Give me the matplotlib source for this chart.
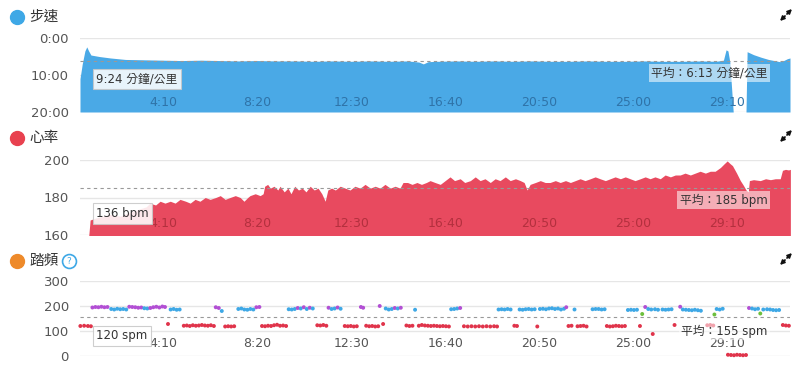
import matplotlib.pyplot as plt
from matplotlib.lines import Line2D
from matplotlib.patches import FancyArrowPatch
from matplotlib.transforms import blended_transform_factory

plt.rcParams['font.family'] = ['DejaVu Sans', 'Noto Sans CJK TC']

# shared time axis (seconds)
x_range = (29, 1917)
x_ticks = [250, 500, 750, 1000, 1250, 1500, 1750]
x_tick_labels = ['4:10', '8:20', '12:30', '16:40', '20:50', '25:00', '29:10']

# pace, minutes per km
pace_t = [29, 35, 42, 47, 52, 58, 80, 110, 150, 200, 250, 300, 350, 400, 450,
          500, 550, 600, 650, 700, 750, 800, 850, 900, 930, 942, 955, 980,
          1030, 1080, 1130, 1180, 1230, 1280, 1330, 1380, 1430, 1480, 1530,
          1580, 1630, 1680, 1720, 1740, 1747, 1752, 1757, 1766, 1800, 1803,
          1820, 1840, 1860, 1880, 1890, 1900, 1910, 1917]
pace_min = [11.0, 7.0, 3.5, 2.4, 3.5, 4.6, 5.0, 5.4, 5.8, 5.9, 6.0, 6.1, 6.0,
            6.1, 6.2, 6.1, 6.2, 6.2, 6.3, 6.2, 6.3, 6.2, 6.3, 6.2, 6.5, 7.0,
            6.4, 6.3, 6.2, 6.3, 6.2, 6.3, 6.2, 6.3, 6.3, 6.2, 6.3, 6.3, 6.2,
            6.3, 6.3, 6.2, 6.3, 6.0, 3.2, 3.5, 6.5, 20.0, 20.0, 3.7, 4.5, 5.2,
            5.8, 6.2, 6.4, 6.1, 5.6, 5.4]
pace_avg = 6.22

# heart rate, bpm
hr_t = [43, 48, 56, 70, 90, 110, 136, 160, 189, 205, 215, 230, 242, 255, 269,
        282, 295, 310, 322, 335, 348, 362, 375, 390, 402, 415, 428, 442, 455,
        465, 475, 481, 495, 508, 516, 520, 528, 535, 545, 555, 561, 572, 582,
        590, 600, 610, 620, 630, 641, 652, 662, 672, 681, 688, 698, 708, 721,
        734, 747, 760, 774, 787, 801, 814, 827, 840, 854, 867, 880, 888, 900,
        912, 925, 937, 950, 960, 973, 987, 1000, 1013, 1025, 1040, 1052, 1067,
        1080, 1093, 1106, 1120, 1133, 1146, 1160, 1173, 1187, 1200, 1210, 1218,
        1226, 1240, 1253, 1266, 1279, 1293, 1306, 1320, 1333, 1346, 1359, 1372,
        1386, 1399, 1412, 1426, 1439, 1452, 1466, 1479, 1492, 1505, 1519, 1532,
        1545, 1558, 1572, 1585, 1599, 1612, 1625, 1638, 1652, 1665, 1678, 1692,
        1705, 1718, 1732, 1742, 1750, 1758, 1764, 1775, 1785, 1793, 1800, 1806,
        1809, 1820, 1838, 1852, 1865, 1878, 1891, 1897, 1905, 1913, 1918]
hr_bpm = [136, 150, 168, 169, 170, 171, 170, 172, 174, 175, 177, 176, 178, 177,
          178, 177, 179, 178, 177, 179, 178, 180, 179, 180, 181, 179, 180, 181,
          180, 178, 180, 181, 182, 181, 182, 186, 187, 185, 186, 184, 186, 183,
          185, 182, 186, 184, 185, 183, 186, 184, 185, 182, 178, 184, 185, 184,
          186, 185, 184, 186, 185, 187, 185, 186, 185, 187, 185, 186, 185, 188,
          188, 187, 188, 187, 188, 189, 188, 187, 189, 191, 189, 190, 188, 189,
          191, 189, 190, 188, 190, 189, 191, 189, 190, 189, 188, 184, 187, 188,
          189, 188, 188, 189, 188, 189, 188, 189, 190, 189, 190, 191, 190, 189,
          190, 191, 190, 191, 190, 189, 190, 191, 190, 191, 190, 192, 191, 192,
          192, 193, 192, 193, 194, 193, 194, 194, 196, 198, 199.5, 198, 197,
          193, 189, 186.5, 184, 183, 189, 189.5, 189, 190, 189.5, 190, 190,
          194.5, 195, 194.7, 195]
hr_avg = 185

# cadence, spm
cad_t = [30, 40, 50, 58,
         62, 70, 78, 86, 94, 102,
         112, 120, 128, 136, 144, 152,
         160, 168, 176, 184, 192, 200, 208, 216, 224, 232, 240, 248, 255,
         263, 270, 278, 286, 294,
         305, 313, 321, 329, 337, 345, 353, 361, 369, 377, 385,
         390, 398, 406,
         415, 423, 431, 439,
         450, 458, 466, 474, 482, 490, 498, 506,
         513, 521, 529, 537, 545, 553, 561, 569, 577,
         584, 592, 600, 608, 616, 624, 632, 640, 648,
         660, 668, 676, 684,
         690, 698, 706, 714, 722,
         733, 741, 749, 757, 765,
         776, 782,
         790, 798, 806, 814, 822,
         826, 835,
         842, 850, 858, 866, 874, 882,
         897, 905, 913,
         920,
         930, 938, 946, 954, 962, 970, 978, 986, 994, 1002, 1010,
         1016, 1024, 1032, 1040,
         1050, 1060, 1070, 1080, 1090, 1100, 1110, 1120, 1130, 1138,
         1142, 1150, 1158, 1166, 1174,
         1184, 1191,
         1198, 1206, 1214, 1222, 1230, 1238,
         1245,
         1252, 1260, 1268, 1276, 1284, 1292, 1300, 1308, 1316, 1322,
         1328, 1336, 1344, 1352, 1360, 1368, 1376,
         1392, 1400, 1408, 1416, 1424,
         1430, 1438, 1446, 1454, 1462, 1470, 1478,
         1486, 1494, 1502, 1510, 1518,
         1524, 1532, 1540, 1548, 1552, 1558, 1566,
         1578, 1586, 1594, 1602, 1610,
         1625, 1632, 1640, 1648, 1656, 1664, 1672, 1680,
         1697, 1705, 1713, 1716,
         1722, 1730, 1738,
         1752, 1760, 1768, 1776, 1784, 1792, 1800,
         1808, 1816, 1824, 1832, 1838, 1846, 1856, 1864, 1872, 1880, 1888,
         1898, 1906, 1914]
cad_spm = [120, 121, 120, 119,
           194, 196, 195, 197, 195, 196,
           188, 186, 189, 187, 188, 186,
           197, 196, 195, 193, 194, 191, 190, 192, 195, 197, 194, 198, 196,
           128, 186, 188, 185, 186,
           121, 122, 120, 123, 121, 122, 124, 122, 121, 123, 120,
           195, 192, 180,
           118, 119, 118, 119,
           188, 190, 186, 185, 188, 186, 195, 196,
           120, 119, 121, 120, 123, 125, 121, 122, 120,
           187, 186, 188, 192, 190, 195, 188, 193, 190,
           123, 122, 124, 121,
           193, 188, 190, 194, 189,
           120, 119, 120, 118, 119,
           196, 193,
           121, 119, 120, 118, 119,
           200, 128,
           190, 186, 188, 192, 190, 193,
           122, 120, 121,
           185,
           121, 124, 122, 121, 120, 121, 120, 119, 120, 119, 118,
           187, 188, 190, 192,
           119, 118, 119, 118, 119, 118, 119, 118, 119, 118,
           186, 187, 186, 188, 186,
           121, 120,
           186, 185, 187, 188, 186, 187,
           118,
           188, 189, 187, 190, 191, 188, 190, 186, 189, 195,
           120, 121, 186, 119, 120, 121, 118,
           187, 188, 188, 186, 187,
           120, 118, 119, 121, 120, 119, 120,
           184, 185, 184, 185, 120,
           168, 196, 188, 186, 88, 187, 185,
           186, 185, 186, 187, 124,
           197, 186, 185, 184, 183, 185, 183, 181,
           123, 124, 122, 166,
           188, 186, 189,
           5, 4, 3, 5, 4, 3, 4,
           192, 190, 187, 189, 170, 186, 187, 186, 184, 183, 184,
           124, 122, 121]
cad_avg = 155

pace_color = '#4aa9e6'
hr_color = '#e84a5f'
grid_color = '#e6e6e6'
W, H = 808, 391


def cadence_color(v):
    if v >= 192:
        return '#b24fd4'
    if v >= 175:
        return '#3ea8e6'
    if v >= 160:
        return '#6cbf3c'
    if v >= 150:
        return '#ee8a2a'
    return '#e0344b'


def style_axis(ax, yticks, ylabels, ylim, label_y, label_color):
    ax.set_xlim(x_range)
    ax.set_ylim(ylim)
    ax.set_yticks(yticks)
    ax.set_yticklabels(ylabels)
    ax.set_xticks([])
    ax.tick_params(axis='y', length=0, pad=8, labelsize=9.5, labelcolor='#555555')
    for s in ax.spines.values():
        s.set_visible(False)
    for y in yticks:
        ax.axhline(y, color=grid_color, lw=1, zorder=0)
    trans = blended_transform_factory(ax.transData, ax.transAxes)
    for xt, lab in zip(x_ticks, x_tick_labels):
        ax.text(xt, label_y, lab, transform=trans, ha='center', va='center',
                fontsize=9, color=label_color, zorder=6)


def expand_icon(fig, cx, cy):
    # two small arrows pointing to the NE and SW corners, pixel coords
    for d in (1, -1):
        start = ((cx + d * 1.0) / W, 1 - (cy - d * 1.0) / H)
        end = ((cx + d * 6.0) / W, 1 - (cy - d * 6.0) / H)
        fig.add_artist(FancyArrowPatch(start, end, transform=fig.transFigure,
                                       arrowstyle='-|>', mutation_scale=6,
                                       lw=1.3, color='#111111',
                                       shrinkA=0, shrinkB=0))


def header(fig, y_px, title, color, help_icon=False):
    y = 1 - y_px / H
    fig.add_artist(Line2D([17 / W], [y], marker='o', markersize=10,
                          color=color, transform=fig.transFigure))
    fig.text(29 / W, y, title, fontsize=10.5, color='#333333', va='center',
             family=['Noto Sans CJK TC'])
    if help_icon:
        fig.add_artist(Line2D([69 / W], [y], marker='o', markersize=10,
                              markerfacecolor='white', markeredgecolor='#3ea8e6',
                              markeredgewidth=1.2, transform=fig.transFigure))
        fig.text(69 / W, y, '?', fontsize=6.5, color='#3ea8e6', ha='center',
                 va='center')
    expand_icon(fig, 786, y_px - 2)


tip_box = dict(boxstyle='square,pad=0.3', fc='white', ec='#c8c8c8', lw=0.8, alpha=0.88)
avg_box = dict(boxstyle='square,pad=0.2', fc='white', ec='none', alpha=0.55)

fig = plt.figure(figsize=(W / 100, H / 100), dpi=100)
left, width = 80 / W, 710 / W

# pace panel
ax1 = fig.add_axes([left, 1 - 112 / H, width, 74 / H])
ax1.fill_between(pace_t, pace_min, 20, color=pace_color, lw=0, zorder=2)
ax1.axhline(pace_avg, color='#999999', lw=0.8, ls=(0, (3, 3)), zorder=3)
style_axis(ax1, [0, 10, 20], ['0:00', '10:00', '20:00'], (20, 0), 0.135, '#2f73a8')
ax1.text(0.023, 0.446, '9:24 分鐘/公里', transform=ax1.transAxes, fontsize=8.5,
         color='#333333', va='center', bbox=tip_box, zorder=7)
ax1.text(0.968, 0.527, '平均：6:13 分鐘/公里', transform=ax1.transAxes, fontsize=8.5,
         color='#333333', va='center', ha='right', bbox=avg_box, zorder=7)

# heart rate panel
ax2 = fig.add_axes([left, 1 - 235 / H, width, 75 / H])
ax2.fill_between(hr_t, hr_bpm, 150, color=hr_color, lw=0, zorder=2)
ax2.axhline(hr_avg, color='#999999', lw=0.8, ls=(0, (3, 3)), zorder=3)
style_axis(ax2, [160, 180, 200], ['160', '180', '200'], (160, 200), 0.147, '#b3303e')
ax2.text(0.023, 0.287, '136 bpm', transform=ax2.transAxes, fontsize=8.5,
         color='#333333', va='center', bbox=tip_box, zorder=7)
ax2.text(0.968, 0.467, '平均：185 bpm', transform=ax2.transAxes, fontsize=8.5,
         color='#333333', va='center', ha='right', bbox=avg_box, zorder=7)

# cadence panel
ax3 = fig.add_axes([left, 1 - 356 / H, width, 75 / H])
ax3.scatter(cad_t, cad_spm, s=8, c=[cadence_color(v) for v in cad_spm],
            lw=0, zorder=4, clip_on=False)
ax3.axhline(cad_avg, color='#999999', lw=0.8, ls=(0, (3, 3)), zorder=3)
style_axis(ax3, [0, 100, 200, 300], ['0', '100', '200', '300'], (0, 300), 0.173, '#555555')
ax3.text(0.023, 0.267, '120 spm', transform=ax3.transAxes, fontsize=8.5,
         color='#333333', va='center', bbox=tip_box, zorder=7)
ax3.text(0.968, 0.333, '平均：155 spm', transform=ax3.transAxes, fontsize=8.5,
         color='#333333', va='center', ha='right', bbox=avg_box, zorder=7)

header(fig, 17, '步速', '#3ea8e6')
header(fig, 138, '心率', '#e8414f')
header(fig, 261, '踏頻', '#ee8a2a', help_icon=True)

fig.savefig('out.png', dpi=100)
